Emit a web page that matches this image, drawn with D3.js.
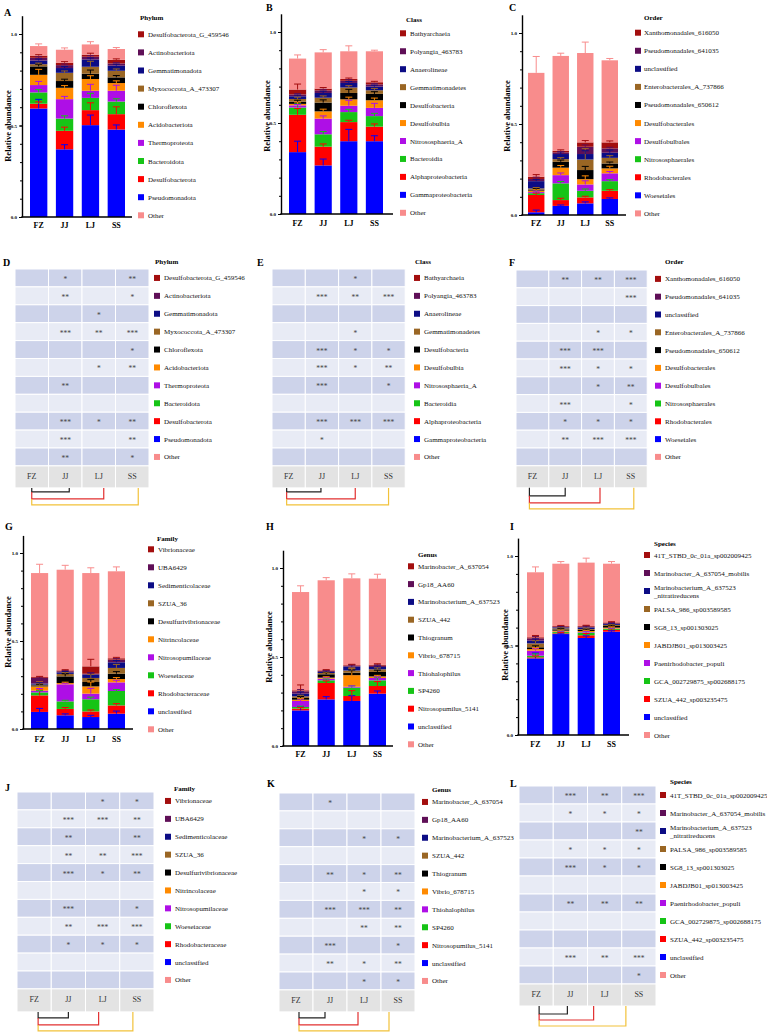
<!DOCTYPE html>
<html><head><meta charset="utf-8">
<script src="https://cdn.jsdelivr.net/npm/d3@7"></script>
<style>body{margin:0;background:#fff}svg{display:block}</style>
</head><body>
<svg id="c" width="767" height="1032"></svg>
<script>
const FONT = "'Liberation Serif','Times New Roman',serif";
const groups = ["FZ", "JJ", "LJ", "SS"];
// legend order (top -> bottom)
const legendColors = ["#A30E0E", "#5F0F57", "#0C0C85", "#9A6624", "#000000", "#FF8A00", "#AE0FE6", "#16C416", "#FF0000", "#0000FF", "#F88C8C"];
// stack order (bottom -> top) given as legend index
const stackOrder = [9, 8, 7, 6, 5, 4, 3, 2, 1, 0, 10];

// ---------- taxa names (legend order) ----------
const phylumNames = ["Desulfobacterota_G_459546", "Actinobacteriota", "Gemmatimonadota", "Myxococcota_A_473307", "Chloroflexota", "Acidobacteriota", "Thermoproteota", "Bacteroidota", "Desulfobacterota", "Pseudomonadota", "Other"];
const classNames = ["Bathyarchaeia", "Polyangia_463783", "Anaerolineae", "Gemmatimonadetes", "Desulfobacteria", "Desulfobulbia", "Nitrososphaeria_A", "Bacteroidia", "Alphaproteobacteria", "Gammaproteobacteria", "Other"];
const orderNames = ["Xanthomonadales_616050", "Pseudomonadales_641035", "unclassified", "Enterobacterales_A_737866", "Pseudomonadales_650612", "Desulfobacterales", "Desulfobulbales", "Nitrososphaerales", "Rhodobacterales", "Woeseiales", "Other"];
const familyNames = ["Vibrionaceae", "UBA6429", "Sedimenticolaceae", "SZUA_36", "Desulfurivibrionaceae", "Nitrincolaceae", "Nitrosopumilaceae", "Woeseiaceae", "Rhodobacteraceae", "unclassified", "Other"];
const genusNames = ["Marinobacter_A_637054", "Gp18_AA60", "Marinobacterium_A_637523", "SZUA_442", "Thiogranum", "Vibrio_678715", "Thiohalophilus", "SP4260", "Nitrosopumilus_5141", "unclassified", "Other"];
const speciesNames = ["41T_STBD_0c_01a_sp002009425", "Marinobacter_A_637054_mobilis", "Marinobacterium_A_637523\n_nitratireducens", "PALSA_986_sp003589585", "SG8_13_sp001303025", "JABDJB01_sp013003425", "Paenirhodobacter_populi", "GCA_002729875_sp002688175", "SZUA_442_sp003235475", "unclassified", "Other"];

// ---------- mean relative abundance per group (stack order bottom -> top, last = Other) ----------
const phylumMeans = [
  [0.593, 0.026, 0.062, 0.040, 0.056, 0.046, 0.012, 0.020, 0.015, 0.012, 0.052],
  [0.370, 0.101, 0.067, 0.106, 0.062, 0.037, 0.045, 0.026, 0.016, 0.013, 0.071],
  [0.502, 0.082, 0.067, 0.039, 0.064, 0.029, 0.038, 0.040, 0.015, 0.011, 0.056],
  [0.478, 0.084, 0.069, 0.059, 0.042, 0.031, 0.036, 0.028, 0.012, 0.020, 0.059]];
const phylumErrors = [
  [0.050, 0.010, 0.015, 0.020, 0.030, 0.012, 0.006, 0.008, 0.006, 0.005, 0.012],
  [0.025, 0.020, 0.015, 0.015, 0.012, 0.010, 0.010, 0.008, 0.006, 0.006, 0.010],
  [0.055, 0.040, 0.025, 0.035, 0.018, 0.020, 0.030, 0.008, 0.006, 0.008, 0.015],
  [0.025, 0.040, 0.015, 0.030, 0.012, 0.010, 0.010, 0.008, 0.005, 0.005, 0.008]];
const classMeans = [
  [0.340, 0.205, 0.040, 0.012, 0.008, 0.012, 0.015, 0.015, 0.010, 0.027, 0.170],
  [0.267, 0.103, 0.068, 0.086, 0.040, 0.048, 0.027, 0.026, 0.014, 0.010, 0.199],
  [0.400, 0.105, 0.055, 0.035, 0.035, 0.035, 0.030, 0.025, 0.012, 0.010, 0.152],
  [0.400, 0.080, 0.058, 0.045, 0.042, 0.035, 0.020, 0.020, 0.012, 0.012, 0.170]];
const classErrors = [
  [0.060, 0.035, 0.020, 0.005, 0.010, 0.008, 0.010, 0.006, 0.005, 0.030, 0.020],
  [0.035, 0.015, 0.015, 0.015, 0.012, 0.015, 0.010, 0.010, 0.006, 0.006, 0.015],
  [0.065, 0.010, 0.015, 0.030, 0.012, 0.020, 0.010, 0.008, 0.006, 0.005, 0.030],
  [0.030, 0.015, 0.015, 0.025, 0.012, 0.012, 0.010, 0.008, 0.005, 0.005, 0.006]];
const orderMeans = [
  [0.015, 0.095, 0.010, 0.006, 0.008, 0.006, 0.006, 0.040, 0.012, 0.012, 0.571],
  [0.050, 0.032, 0.092, 0.045, 0.041, 0.032, 0.015, 0.028, 0.009, 0.009, 0.521],
  [0.064, 0.033, 0.036, 0.035, 0.029, 0.050, 0.058, 0.030, 0.040, 0.024, 0.491],
  [0.088, 0.045, 0.053, 0.043, 0.027, 0.027, 0.031, 0.028, 0.024, 0.033, 0.451]];
const orderErrors = [
  [0.012, 0.010, 0.020, 0.005, 0.006, 0.005, 0.005, 0.010, 0.010, 0.012, 0.090],
  [0.005, 0.010, 0.010, 0.012, 0.012, 0.010, 0.008, 0.012, 0.005, 0.005, 0.015],
  [0.008, 0.006, 0.010, 0.020, 0.018, 0.020, 0.060, 0.018, 0.010, 0.010, 0.060],
  [0.006, 0.006, 0.008, 0.010, 0.012, 0.008, 0.012, 0.015, 0.006, 0.008, 0.010]];
const familyMeans = [
  [0.097, 0.094, 0.017, 0.010, 0.024, 0.006, 0.004, 0.006, 0.032, 0.005, 0.591],
  [0.078, 0.036, 0.043, 0.097, 0.007, 0.038, 0.014, 0.009, 0.006, 0.005, 0.572],
  [0.068, 0.032, 0.069, 0.032, 0.041, 0.025, 0.023, 0.019, 0.005, 0.042, 0.530],
  [0.087, 0.047, 0.082, 0.049, 0.019, 0.030, 0.033, 0.032, 0.015, 0.008, 0.494]];
const familyErrors = [
  [0.020, 0.030, 0.010, 0.012, 0.025, 0.005, 0.005, 0.005, 0.005, 0.004, 0.050],
  [0.008, 0.008, 0.006, 0.006, 0.005, 0.015, 0.008, 0.005, 0.005, 0.004, 0.025],
  [0.010, 0.008, 0.012, 0.030, 0.025, 0.015, 0.020, 0.010, 0.005, 0.040, 0.030],
  [0.015, 0.010, 0.008, 0.012, 0.008, 0.012, 0.020, 0.010, 0.006, 0.005, 0.025]];
const genusMeans = [
  [0.200, 0.010, 0.009, 0.034, 0.007, 0.010, 0.009, 0.015, 0.013, 0.006, 0.552],
  [0.262, 0.092, 0.015, 0.009, 0.006, 0.019, 0.007, 0.006, 0.005, 0.004, 0.506],
  [0.253, 0.028, 0.047, 0.005, 0.065, 0.014, 0.012, 0.022, 0.004, 0.004, 0.488],
  [0.294, 0.043, 0.032, 0.013, 0.009, 0.025, 0.015, 0.013, 0.007, 0.006, 0.483]];
const genusErrors = [
  [0.020, 0.006, 0.005, 0.010, 0.006, 0.008, 0.006, 0.010, 0.010, 0.030, 0.035],
  [0.015, 0.012, 0.008, 0.006, 0.005, 0.010, 0.005, 0.006, 0.004, 0.004, 0.015],
  [0.030, 0.030, 0.010, 0.005, 0.040, 0.015, 0.010, 0.010, 0.005, 0.005, 0.025],
  [0.015, 0.025, 0.015, 0.006, 0.006, 0.010, 0.008, 0.006, 0.005, 0.005, 0.025]];
const speciesMeans = [
  [0.428, 0.006, 0.009, 0.028, 0.009, 0.010, 0.022, 0.015, 0.013, 0.006, 0.363],
  [0.564, 0.004, 0.007, 0.002, 0.006, 0.007, 0.006, 0.005, 0.004, 0.004, 0.348],
  [0.542, 0.015, 0.015, 0.003, 0.006, 0.006, 0.005, 0.009, 0.004, 0.004, 0.354],
  [0.577, 0.010, 0.005, 0.002, 0.006, 0.009, 0.006, 0.005, 0.004, 0.005, 0.328]];
const speciesErrors = [
  [0.030, 0.008, 0.010, 0.012, 0.008, 0.008, 0.015, 0.010, 0.010, 0.010, 0.030],
  [0.005, 0.004, 0.004, 0.003, 0.004, 0.004, 0.004, 0.004, 0.003, 0.003, 0.012],
  [0.012, 0.010, 0.010, 0.004, 0.004, 0.005, 0.005, 0.008, 0.004, 0.004, 0.025],
  [0.005, 0.006, 0.004, 0.003, 0.004, 0.005, 0.004, 0.004, 0.004, 0.004, 0.012]];

// ---------- significance marks (legend order rows, columns FZ JJ LJ SS) ----------
const phylumStars = [["", "*", "", "**"], ["", "**", "", "*"], ["", "", "*", ""], ["", "***", "**", "***"], ["", "", "", "*"], ["", "", "*", "**"], ["", "**", "", ""], ["", "", "", ""], ["", "***", "*", "**"], ["", "***", "", "**"], ["", "**", "", "*"]];
const classStars = [["", "", "*", ""], ["", "***", "**", "***"], ["", "", "", ""], ["", "", "*", ""], ["", "***", "*", "*"], ["", "***", "*", "**"], ["", "***", "", "*"], ["", "", "", ""], ["", "***", "***", "***"], ["", "*", "", ""], ["", "", "", ""]];
const orderStars = [["", "**", "**", "***"], ["", "", "", "***"], ["", "", "", ""], ["", "", "*", "*"], ["", "***", "***", ""], ["", "***", "*", "*"], ["", "", "*", "**"], ["", "***", "", "*"], ["", "*", "*", "*"], ["", "**", "***", "***"], ["", "", "", ""]];
const familyStars = [["", "", "*", "*"], ["", "***", "***", "**"], ["", "**", "", "**"], ["", "**", "**", "***"], ["", "***", "*", "**"], ["", "", "", ""], ["", "***", "", "*"], ["", "**", "***", "***"], ["", "*", "*", "*"], ["", "", "", ""], ["", "", "", ""]];
const genusStars = [["", "*", "", ""], ["", "", "", ""], ["", "", "*", "*"], ["", "", "", ""], ["", "**", "*", "**"], ["", "", "*", "*"], ["", "***", "***", "**"], ["", "", "**", "**"], ["", "***", "", "*"], ["", "**", "*", "**"], ["", "", "*", "*"]];
const speciesStars = [["", "***", "**", "***"], ["", "*", "*", "*"], ["", "", "", "**"], ["", "*", "*", "*"], ["", "***", "*", "*"], ["", "", "", ""], ["", "**", "**", "**"], ["", "", "", ""], ["", "", "", ""], ["", "***", "**", "***"], ["", "", "", "*"]];

const yTicks = [0, 0.5, 1.0];
const bracketColors = ["#222222", "#E23030", "#F2C23A"];

const svg = d3.select("#c").attr("font-family", FONT);

function legend(g, names, title, tx, ty, sx, textX, cy0, step) {
  g.append("text").attr("x", tx).attr("y", ty).attr("font-size", 7).attr("font-weight", "bold").text(title);
  names.forEach((n, i) => {
    const cy = cy0 + i * step;
    g.append("rect").attr("x", sx).attr("y", cy - 3).attr("width", 6).attr("height", 6).attr("fill", legendColors[i]);
    const lines = n.split("\n");
    const t = g.append("text").attr("font-size", 7).attr("fill", "#111");
    lines.forEach((l, j) => {
      t.append("tspan").attr("x", textX).attr("y", cy + 2.5 + (j - (lines.length - 1) / 2) * 8).text(l);
    });
  });
}

function drawBarPanel(p) {
  const g = svg.append("g");
  const x = d3.scaleBand().domain(groups).range([p.bx0, p.bx1]).paddingInner(0.33).paddingOuter(0);
  const y = d3.scaleLinear().domain([0, 1]).range([p.y0, p.y1]);
  const yMax = 1.1;
  const yAx = y.copy().domain([0, yMax]).range([p.y0, y(yMax)]);
  const rows = groups.map((grp, gi) => { const o = { grp }; p.means[gi].forEach((v, k) => o[k] = v); return o; });
  const series = d3.stack().keys(d3.range(11))(rows);
  series.forEach((s, k) => {
    g.append("g").selectAll("rect").data(s).join("rect")
      .attr("x", d => x(d.data.grp)).attr("width", x.bandwidth())
      .attr("y", d => y(d[1])).attr("height", d => y(d[0]) - y(d[1]))
      .attr("fill", legendColors[stackOrder[k]]);
  });
  series.forEach((s, k) => {
    const col = legendColors[stackOrder[k]];
    s.forEach((d, gi) => {
      const e = p.errors[gi][k];
      const cx = x(d.data.grp) + x.bandwidth() / 2;
      g.append("line").attr("x1", cx).attr("x2", cx).attr("y1", y(d[1])).attr("y2", y(d[1] + e)).attr("stroke", col).attr("stroke-width", 1);
      g.append("line").attr("x1", cx - 3.5).attr("x2", cx + 3.5).attr("y1", y(d[1] + e)).attr("y2", y(d[1] + e)).attr("stroke", col).attr("stroke-width", 1);
    });
  });
  const ax = g.append("g").attr("transform", `translate(${p.ax},0)`)
    .call(d3.axisLeft(yAx).tickValues(yTicks).tickFormat(d3.format(".1f")).tickSize(3).tickSizeOuter(0).tickPadding(2));
  ax.attr("font-size", 5).attr("font-family", FONT).attr("font-weight", "bold");
  ax.select(".domain").attr("stroke-width", 1.4);
  const mn = g.append("g").attr("transform", `translate(${p.ax},0)`)
    .call(d3.axisLeft(yAx).tickValues(d3.range(1, 11).map(i => i / 10)).tickSize(2).tickFormat(""));
  mn.select(".domain").remove();
  g.append("line").attr("x1", p.ax - 0.7).attr("x2", p.xEnd).attr("y1", p.y0).attr("y2", p.y0).attr("stroke", "#000").attr("stroke-width", 1.4);
  g.selectAll(".xl").data(groups).join("text").attr("class", "xl")
    .attr("x", d => x(d) + x.bandwidth() / 2).attr("y", p.xlabY).attr("text-anchor", "middle")
    .attr("font-size", 8).attr("font-weight", "bold").text(d => d);
  g.append("text").attr("transform", `translate(${p.ylx},${p.yly}) rotate(-90)`).attr("text-anchor", "middle")
    .attr("font-size", 8.5).attr("font-weight", "bold").text("Relative abundance");
  legend(g, p.names, p.title, p.tx, p.ty, p.sx, p.textX, p.cy0, p.step);
}

function drawHeatPanel(p) {
  const g = svg.append("g");
  const x = d3.scaleBand().domain(groups).range([p.left, p.left + 4 * p.cw]);
  const y = d3.scaleBand().domain(d3.range(11)).range([p.top, p.top + 11 * p.rh]);
  const cells = [];
  p.stars.forEach((row, r) => row.forEach((s, c) => cells.push({ r, c, s })));
  g.selectAll(".cell").data(cells).join("rect").attr("class", "cell")
    .attr("x", d => x(groups[d.c])).attr("y", d => y(d.r)).attr("width", x.bandwidth()).attr("height", y.bandwidth())
    .attr("fill", d => d.r % 2 === 0 ? "#CDD3EA" : "#E8EBF5").attr("stroke", "#fff").attr("stroke-width", 1);
  g.selectAll(".st").data(cells.filter(d => d.s)).join("text").attr("class", "st")
    .attr("x", d => x(groups[d.c]) + x.bandwidth() / 2).attr("y", d => y(d.r) + y.bandwidth() / 2 + 4)
    .attr("text-anchor", "middle").attr("font-size", 7.5).attr("fill", "#444").text(d => d.s);
  const hy = p.top + 11 * p.rh;
  g.selectAll(".hd").data(groups).join("rect").attr("class", "hd")
    .attr("x", d => x(d)).attr("y", hy).attr("width", x.bandwidth()).attr("height", p.hh)
    .attr("fill", "#E3E3E3").attr("stroke", "#fff").attr("stroke-width", 1);
  g.selectAll(".hl").data(groups).join("text").attr("class", "hl")
    .attr("x", d => x(d) + x.bandwidth() / 2).attr("y", hy + p.hh / 2 + 2).attr("text-anchor", "middle")
    .attr("font-size", 8).attr("fill", "#333").text(d => d);
  // comparison brackets FZ vs JJ / LJ / SS
  const by = hy + p.hh;
  const cx = i => x(groups[i]) + x.bandwidth() / 2 + p.boff[i];
  [1, 2, 3].forEach((gi, k) => {
    const ly = by + p.blev[k];
    const col = bracketColors[k];
    const prev = k === 0 ? by : by + p.blev[k - 1];
    g.append("path").attr("d", `M${cx(0)},${prev}V${ly}H${cx(gi)}V${by}`)
      .attr("fill", "none").attr("stroke", col).attr("stroke-width", 1.2);
  });
  legend(g, p.names, p.title, p.tx, p.ty, p.sx, p.textX, p.top + p.rh / 2, p.rh);
}

// ---------- bar panels ----------
drawBarPanel({ means: phylumMeans, errors: phylumErrors, names: phylumNames, title: "Phylum",
  ax: 22, xEnd: 132, bx0: 30, bx1: 125, y0: 217, y1: 34, xlabY: 228, ylx: 11, yly: 126,
  tx: 140, ty: 20, sx: 138, textX: 148, cy0: 34.3, step: 18.1 });
drawBarPanel({ means: classMeans, errors: classErrors, names: classNames, title: "Class",
  ax: 281, xEnd: 393, bx0: 289, bx1: 383, y0: 214, y1: 32, xlabY: 226, ylx: 270, yly: 116,
  tx: 406, ty: 22, sx: 400, textX: 410, cy0: 33.3, step: 17.95 });
drawBarPanel({ means: orderMeans, errors: orderErrors, names: orderNames, title: "Order",
  ax: 522, xEnd: 626, bx0: 528, bx1: 618, y0: 215, y1: 33, xlabY: 226, ylx: 510, yly: 116,
  tx: 644, ty: 20, sx: 635, textX: 644, cy0: 32.7, step: 18.07 });
drawBarPanel({ means: familyMeans, errors: familyErrors, names: familyNames, title: "Family",
  ax: 23, xEnd: 133, bx0: 31, bx1: 125, y0: 729, y1: 553, xlabY: 742, ylx: 11, yly: 632,
  tx: 157, ty: 541, sx: 148, textX: 158, cy0: 549.3, step: 18 });
drawBarPanel({ means: genusMeans, errors: genusErrors, names: genusNames, title: "Genus",
  ax: 283, xEnd: 393, bx0: 292, bx1: 386, y0: 746, y1: 568, xlabY: 757, ylx: 272, yly: 647,
  tx: 418, ty: 557, sx: 408, textX: 418, cy0: 566.3, step: 17.8 });
drawBarPanel({ means: speciesMeans, errors: speciesErrors, names: speciesNames, title: "Species",
  ax: 518, xEnd: 629, bx0: 527, bx1: 620, y0: 735, y1: 556, xlabY: 747, ylx: 508, yly: 645,
  tx: 654, ty: 546, sx: 644, textX: 654, cy0: 555, step: 18 });

// ---------- significance panels ----------
drawHeatPanel({ stars: phylumStars, names: phylumNames, title: "Phylum", left: 15, cw: 33.5, top: 269, rh: 17.9, hh: 22,
  tx: 155, ty: 264, sx: 154, textX: 164, boff: [0, 4, 5, 6], blev: [4, 11, 17] });
drawHeatPanel({ stars: classStars, names: classNames, title: "Class", left: 272, cw: 33.3, top: 269, rh: 17.9, hh: 22,
  tx: 415, ty: 264, sx: 414, textX: 424, boff: [-2, -1, 0, 0], blev: [4, 11, 17] });
drawHeatPanel({ stars: orderStars, names: orderNames, title: "Order", left: 516, cw: 32.8, top: 270, rh: 17.8, hh: 22,
  tx: 665, ty: 264, sx: 655, textX: 665, boff: [-3, 0, 2, 3], blev: [8, 15, 21] });
drawHeatPanel({ stars: familyStars, names: familyNames, title: "Family", left: 17, cw: 34.25, top: 792, rh: 17.9, hh: 23,
  tx: 174, ty: 791, sx: 165, textX: 175, boff: [4, 0, -4, -4], blev: [6, 13, 19] });
drawHeatPanel({ stars: genusStars, names: genusNames, title: "Genus", left: 279, cw: 34, top: 793, rh: 17.9, hh: 22,
  tx: 432, ty: 792, sx: 422, textX: 432, boff: [3, -5, -6, -9], blev: [6, 13, 19] });
drawHeatPanel({ stars: speciesStars, names: speciesNames, title: "Species", left: 519, cw: 34.25, top: 786, rh: 18, hh: 22,
  tx: 670, ty: 784, sx: 660, textX: 670, boff: [3, -3, -11, -13], blev: [8, 14, 20] });

// ---------- panel letters ----------
const panelLetters = [["A", 4, 16], ["B", 266, 11], ["C", 509, 11], ["D", 3, 266], ["E", 257, 266], ["F", 509, 266],
  ["G", 5, 530], ["H", 266, 530], ["I", 510, 530], ["J", 5, 791], ["K", 267, 787], ["L", 510, 787]];
svg.selectAll(".pl").data(panelLetters).join("text").attr("class", "pl")
  .attr("x", d => d[1]).attr("y", d => d[2]).attr("font-size", 10).attr("font-weight", "bold").text(d => d[0]);
</script>
</body></html>
